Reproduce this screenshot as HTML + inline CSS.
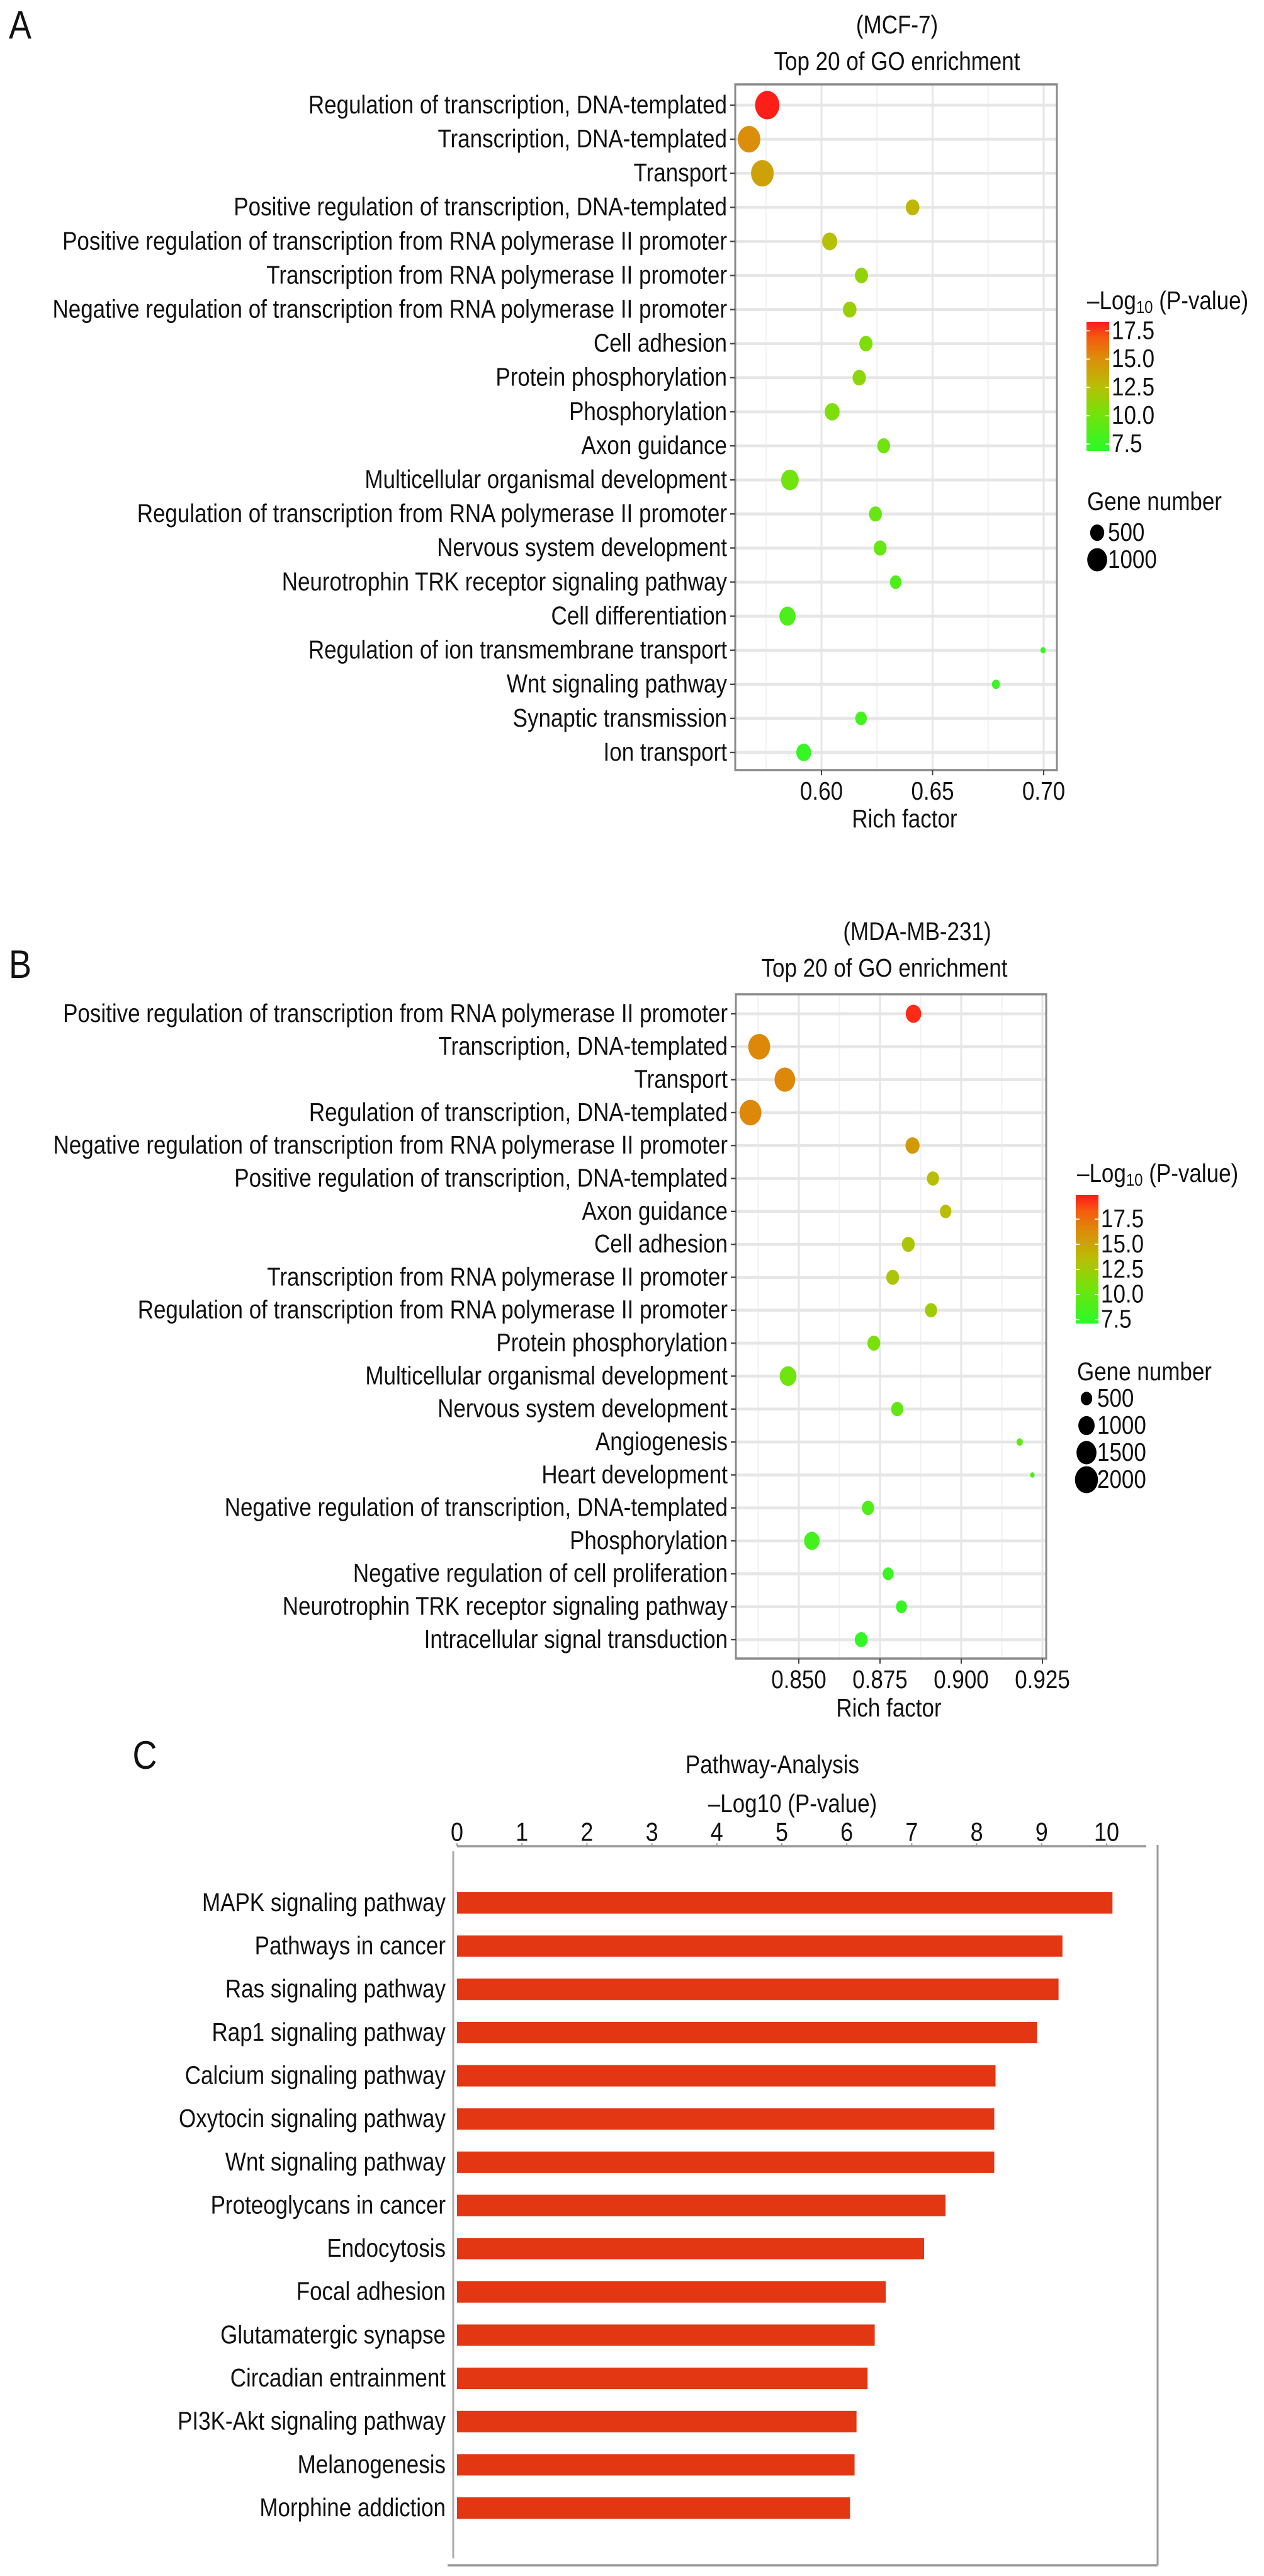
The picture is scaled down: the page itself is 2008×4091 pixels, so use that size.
<!DOCTYPE html>
<html><head><meta charset="utf-8">
<style>
html,body{margin:0;padding:0;background:#fff;}
svg{display:block;}
text{font-family:"Liberation Sans",sans-serif;fill:#111;}
</style></head>
<body>
<svg id="fig" xmlns="http://www.w3.org/2000/svg" width="2008" height="4091" viewBox="0 0 2008 3496.6" preserveAspectRatio="none"></svg>
<script>
// ---------- Panel A data (MCF-7) ----------
const aTerms = ["Regulation of transcription, DNA-templated","Transcription, DNA-templated","Transport","Positive regulation of transcription, DNA-templated","Positive regulation of transcription from RNA polymerase II promoter","Transcription from RNA polymerase II promoter","Negative regulation of transcription from RNA polymerase II promoter","Cell adhesion","Protein phosphorylation","Phosphorylation","Axon guidance","Multicellular organismal development","Regulation of transcription from RNA polymerase II promoter","Nervous system development","Neurotrophin TRK receptor signaling pathway","Cell differentiation","Regulation of ion transmembrane transport","Wnt signaling pathway","Synaptic transmission","Ion transport"];
const aRich = [0.5756,0.5674,0.5734,0.641,0.6037,0.618,0.6127,0.620,0.617,0.6048,0.628,0.5858,0.6243,0.6264,0.6334,0.5847,0.6997,0.6785,0.6178,0.592];
const aGenes = [1500,1300,1300,470,580,440,470,440,450,560,420,780,420,420,340,660,70,160,340,560];
const aLogP = [18.2,15,14,13,12.5,11.2,11.5,10.5,11,10.5,10,10,9.5,9.5,8.5,8.5,7.5,7.5,8,7.5];
const aTicks = [0.60,0.65,0.70];
const aTickLabels = ["0.60","0.65","0.70"];
const aColorTicks = [7.5,10.0,12.5,15.0,17.5];
const aSizeLegend = [500,1000];

// ---------- Panel B data (MDA-MB-231) ----------
const bTerms = ["Positive regulation of transcription from RNA polymerase II promoter","Transcription, DNA-templated","Transport","Regulation of transcription, DNA-templated","Negative regulation of transcription from RNA polymerase II promoter","Positive regulation of transcription, DNA-templated","Axon guidance","Cell adhesion","Transcription from RNA polymerase II promoter","Regulation of transcription from RNA polymerase II promoter","Protein phosphorylation","Multicellular organismal development","Nervous system development","Angiogenesis","Heart development","Negative regulation of transcription, DNA-templated","Phosphorylation","Negative regulation of cell proliferation","Neurotrophin TRK receptor signaling pathway","Intracellular signal transduction"];
const bRich = [0.8853,0.8378,0.8457,0.8351,0.885,0.8913,0.8952,0.8837,0.8789,0.8907,0.8731,0.8467,0.8803,0.918,0.9219,0.8713,0.854,0.8775,0.8816,0.8692];
const bGenes = [900,1800,1600,1800,750,560,500,620,620,560,620,1050,560,150,80,560,900,450,450,620];
const bLogP = [19.5,16.5,16.5,16.5,15.5,13.5,13.5,13,13,12.5,11,10.5,10,9.5,9,9,8.5,8,7.8,7.6];
const bTicks = [0.850,0.875,0.900,0.925];
const bTickLabels = ["0.850","0.875","0.900","0.925"];
const bColorTicks = [7.5,10.0,12.5,15.0,17.5];
const bSizeLegend = [500,1000,1500,2000];

// ---------- Panel C data ----------
const cPathways = ["MAPK signaling pathway","Pathways in cancer","Ras signaling pathway","Rap1 signaling pathway","Calcium signaling pathway","Oxytocin signaling pathway","Wnt signaling pathway","Proteoglycans in cancer","Endocytosis","Focal adhesion","Glutamatergic synapse","Circadian entrainment","PI3K-Akt signaling pathway","Melanogenesis","Morphine addiction"];
const cValues = [10.09,9.32,9.26,8.93,8.29,8.27,8.27,7.52,7.19,6.6,6.43,6.32,6.15,6.12,6.05];
const cTicks = [0,1,2,3,4,5,6,7,8,9,10];

const S = 1.17;
const FS = 35;
const NS = "http://www.w3.org/2000/svg";
const svg = document.getElementById('fig');
function Y(v){return v/S;}
function mk(tag, attrs, parent){
  const e = document.createElementNS(NS, tag);
  for (const k in attrs) e.setAttribute(k, attrs[k]);
  (parent||svg).appendChild(e);
  return e;
}
function txt(str, x, y, size, anchor, parent){
  const t = mk('text', {x:x, y:y, 'font-size':size, 'text-anchor':anchor||'start', 'dominant-baseline':'central'}, parent);
  t.textContent = str;
  return t;
}
const stops = [[0,[40,250,40]],[0.3,[120,225,10]],[0.5,[185,190,5]],[0.72,[220,140,10]],[0.88,[245,90,15]],[1,[255,25,25]]];
function colorAt(t){
  t = Math.max(0, Math.min(1, t));
  for (let i=1;i<stops.length;i++){
    if (t <= stops[i][0]){
      const a = stops[i-1], b = stops[i], f = (t-a[0])/(b[0]-a[0]);
      const c = a[1].map((v,j)=>Math.round(v+(b[1][j]-v)*f));
      return 'rgb('+c.join(',')+')';
    }
  }
  return 'rgb(255,25,25)';
}

function dotChart(cfg){
  const g = mk('g', {});
  
  
  const xScale = v => cfg.px0 + (v - cfg.v0) * cfg.ppu;
  const n = cfg.terms.length;
  const rowY = i => cfg.row0 + i * (cfg.rowN - cfg.row0) / (n - 1);
  const colT = v => (v - cfg.cmin) / (cfg.cmax - cfg.cmin);
  const pl = txt(cfg.letter, 32, Y(cfg.letterY), 54, 'middle', g);
  
  
  const t1 = txt(cfg.sub, cfg.subX, Y(cfg.subY), FS, 'middle', g);
  
  
  const t2 = txt('Top 20 of GO enrichment', cfg.titleX, Y(cfg.titleY), FS, 'middle', g);
  
  
  mk('rect', {x:cfg.left, y:Y(cfg.top), width:cfg.right-cfg.left, height:Y(cfg.bottom)-Y(cfg.top), fill:'#fff'}, g);
  const step = cfg.ticks[1]-cfg.ticks[0];
  for (let v = cfg.ticks[0]-step/2; xScale(v) < cfg.right; v += step/2){
    if (xScale(v) <= cfg.left) continue;
    mk('line', {x1:xScale(v), x2:xScale(v), y1:Y(cfg.top), y2:Y(cfg.bottom), stroke:'#f1f1f1', 'stroke-width':2}, g);
  }
  cfg.ticks.forEach(v=>{
    mk('line', {x1:xScale(v), x2:xScale(v), y1:Y(cfg.top), y2:Y(cfg.bottom), stroke:'#e6e6e6', 'stroke-width':3}, g);
  });
  cfg.terms.forEach((t,i)=>{
    mk('line', {x1:cfg.left, x2:cfg.right, y1:Y(rowY(i)), y2:Y(rowY(i)), stroke:'#e6e6e6', 'stroke-width':4}, g);
  });
  mk('rect', {x:cfg.left, y:Y(cfg.top), width:cfg.right-cfg.left, height:Y(cfg.bottom)-Y(cfg.top), fill:'none', stroke:'#8a8a8a', 'stroke-width':3}, g);
  cfg.terms.forEach((t,i)=>{
    mk('line', {x1:cfg.left-8, x2:cfg.left, y1:Y(rowY(i)), y2:Y(rowY(i)), stroke:'#444', 'stroke-width':2}, g);
    const l = txt(t, cfg.left-13, Y(rowY(i)), FS, 'end', g);
    
    
  });
  cfg.ticks.forEach((v,i)=>{
    mk('line', {x1:xScale(v), x2:xScale(v), y1:Y(cfg.bottom), y2:Y(cfg.bottom)+7, stroke:'#444', 'stroke-width':2}, g);
    const l = txt(cfg.tickLabels[i], xScale(v), Y(cfg.tickY), FS, 'middle', g);
    
    
  });
  const xt = txt('Rich factor', cfg.xTitleX, Y(cfg.xTitleY), FS, 'middle', g);
  
  
  cfg.terms.forEach((t,i)=>{
    const c = mk('circle', {cx:xScale(cfg.rich[i]), cy:Y(rowY(i)), r:cfg.k*Math.sqrt(cfg.genes[i]), fill:colorAt(colT(cfg.logp[i]))}, g);
    
    
  });
  const lt = mk('text', {x:cfg.legX, y:Y(cfg.legTitleY), 'font-size':FS, 'dominant-baseline':'central'}, g);
  
  
  lt.innerHTML = '–Log<tspan font-size="24" dy="8">10</tspan><tspan dy="-8"> (P-value)</tspan>';
  const gid = 'grad'+cfg.letter;
  const defs = mk('defs', {}, g);
  const lg = mk('linearGradient', {id:gid, x1:0, y1:1, x2:0, y2:0}, defs);
  stops.forEach(s=>mk('stop', {offset:s[0], 'stop-color':'rgb('+s[1].join(',')+')'}, lg));
  const cb = mk('rect', {x:cfg.cbX, y:Y(cfg.cbTop), width:36, height:Y(cfg.cbBot)-Y(cfg.cbTop), fill:'url(#'+gid+')'}, g);
  
  
  const cbY = v => cfg.cbBot - (v - cfg.cmin)/(cfg.cmax - cfg.cmin)*(cfg.cbBot - cfg.cbTop);
  cfg.colorTicks.forEach(v=>{
    mk('line', {x1:cfg.cbX, x2:cfg.cbX+6, y1:Y(cbY(v)), y2:Y(cbY(v)), stroke:'#fff', 'stroke-width':1.5}, g);
    mk('line', {x1:cfg.cbX+30, x2:cfg.cbX+36, y1:Y(cbY(v)), y2:Y(cbY(v)), stroke:'#fff', 'stroke-width':1.5}, g);
    const l = txt(v.toFixed(1), cfg.cbX+40, Y(cbY(v)), FS, 'start', g);
    
    
  });
  const st = txt('Gene number', cfg.legX, Y(cfg.sizeTitleY), FS, 'start', g);
  
  
  cfg.sizes.forEach((s,i)=>{
    const yy = Y(cfg.size0Y + i*cfg.sizeStep);
    mk('circle', {cx:cfg.sizeX, cy:yy, r:cfg.k*Math.sqrt(s), fill:'#000'}, g);
    const l = txt(String(s), cfg.sizeX+17, yy, FS, 'start', g);
    
    
  });
}

dotChart({name:'panel-a-go-mcf7', letter:'A', letterY:40, sub:'(MCF-7)', subX:1425, subY:40, titleX:1425, titleY:98,
  terms:aTerms, rich:aRich, genes:aGenes, logp:aLogP, ticks:aTicks, tickLabels:aTickLabels, colorTicks:aColorTicks, sizes:aSizeLegend,
  left:1168, right:1679, top:134, bottom:1223, row0:167, rowN:1195, px0:1305, v0:0.60, ppu:3530,
  tickY:1257, xTitleX:1437, xTitleY:1301, k:0.50, cmin:6.9, cmax:18.3,
  legX:1727, legTitleY:478, cbX:1726, cbTop:511, cbBot:716, sizeTitleY:797, sizeX:1743, size0Y:846, sizeStep:43});

dotChart({name:'panel-b-go-mdamb231', letter:'B', letterY:1532, sub:'(MDA-MB-231)', subX:1457, subY:1480, titleX:1405, titleY:1538,
  terms:bTerms, rich:bRich, genes:bGenes, logp:bLogP, ticks:bTicks, tickLabels:bTickLabels, colorTicks:bColorTicks, sizes:bSizeLegend,
  left:1169, right:1662, top:1579, bottom:2634, row0:1610, rowN:2604, px0:1269, v0:0.850, ppu:5160,
  tickY:2668, xTitleX:1412, xTitleY:2713, k:0.41, cmin:7.1, cmax:19.9,
  legX:1711, legTitleY:1864, cbX:1709, cbTop:1898, cbBot:2102, sizeTitleY:2179, sizeX:1726, size0Y:2221, sizeStep:43});

// ---------- Panel C ----------
(function(){
  const g = mk('g', {});
  
  
  const x0 = 726, ppu = 103.2;
  const xs = v => x0 + v*ppu;
  const row0 = 3022, rowStep = 68.65;
  const pl = txt('C', 230, Y(2788), 54, 'middle', g);
  
  
  const t = txt('Pathway-Analysis', 1227, Y(2803), FS, 'middle', g);
  
  
  const at = txt('–Log10 (P-value)', 1259, Y(2865), FS, 'middle', g);
  
  
  mk('line', {x1:726, x2:1821, y1:Y(2932), y2:Y(2932), stroke:'#999', 'stroke-width':3}, g);
  cTicks.forEach(v=>{
    mk('line', {x1:xs(v), x2:xs(v), y1:Y(2932), y2:Y(2932)-4, stroke:'#999', 'stroke-width':2}, g);
    const l = txt(String(v), xs(v), Y(2910), 36, 'middle', g);
    
    
  });
  mk('line', {x1:720, x2:720, y1:Y(2940), y2:Y(4063), stroke:'#aaa', 'stroke-width':3}, g);
  mk('line', {x1:1839, x2:1839, y1:Y(2930), y2:Y(4074), stroke:'#999', 'stroke-width':3}, g);
  mk('line', {x1:711, x2:1839, y1:Y(4074), y2:Y(4074), stroke:'#999', 'stroke-width':3}, g);
  cPathways.forEach((p,i)=>{
    const yc = row0 + i*rowStep;
    const b = mk('rect', {x:x0, y:Y(yc-17), width:xs(cValues[i])-x0, height:Y(34), fill:'#e33714'}, g);
    
    
    const l = txt(p, 708, Y(yc), FS, 'end', g);
    
    
  });
})();
</script>
</body></html>
